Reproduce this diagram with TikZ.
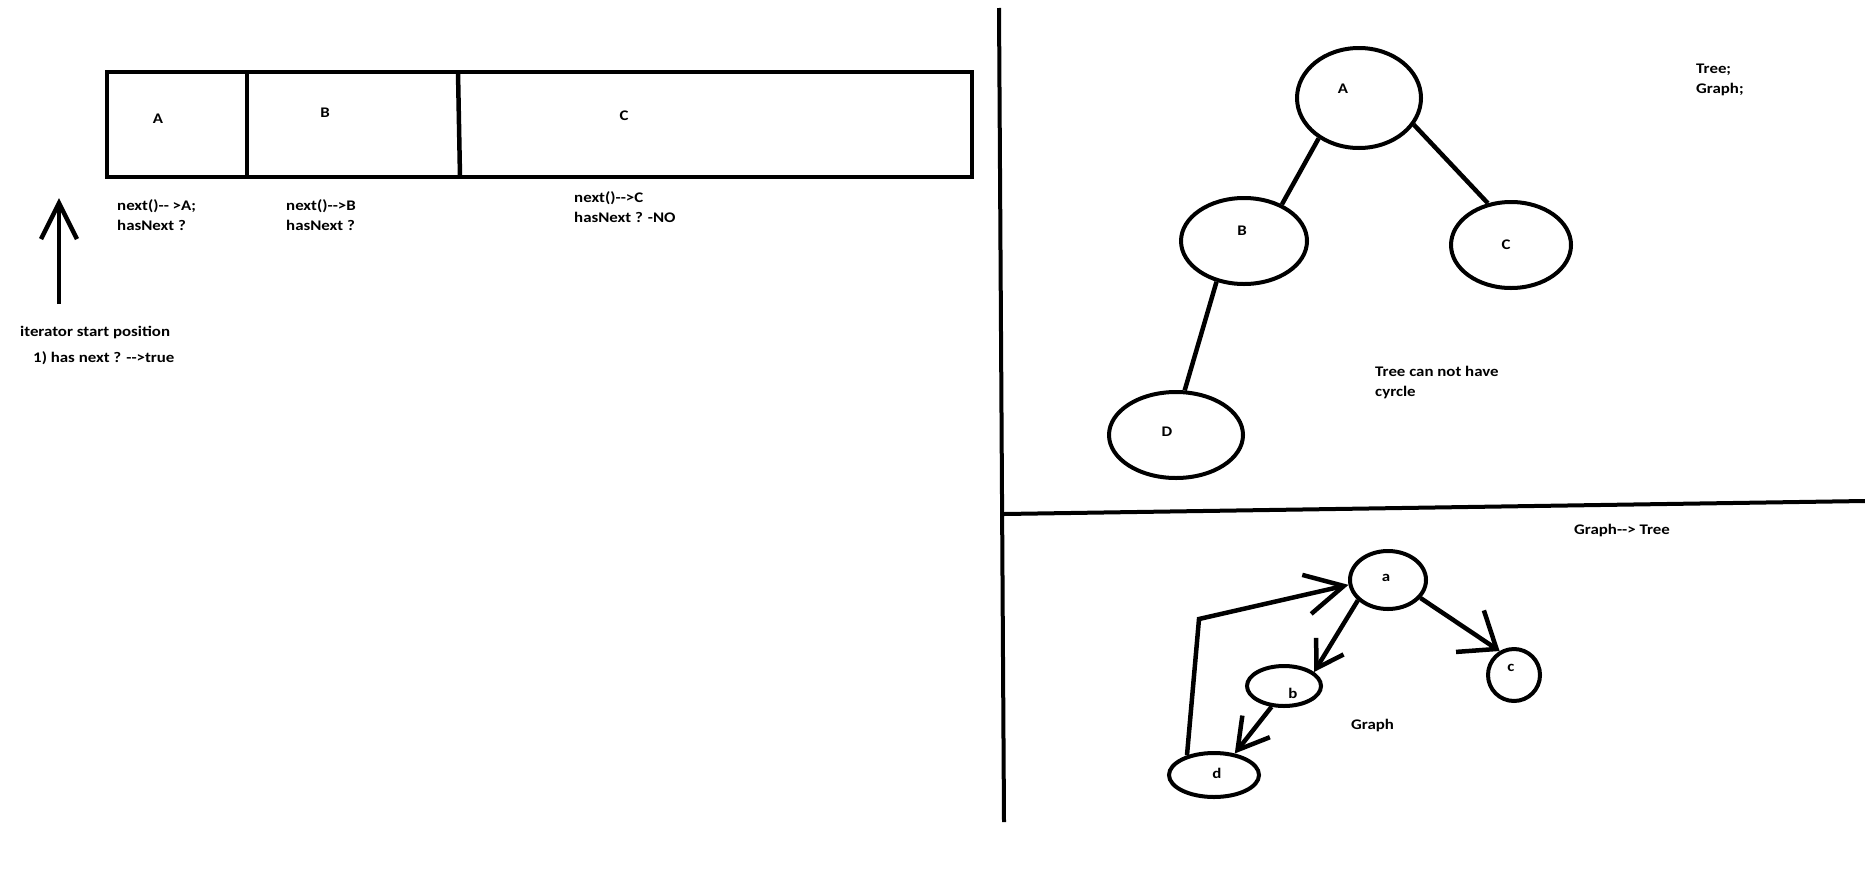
\documentclass[tikz,border=0pt]{standalone}
\usepackage{fontspec}
\setmainfont{Carlito}[Ligatures=TeXOff,FakeStretch=1.15]
\usetikzlibrary{arrows.meta,shapes.geometric}
\begin{document}
\begin{tikzpicture}[x=1pt,y=-1pt,
  txt/.style={font=\fontsize{14.67}{20}\selectfont\bfseries, inner sep=0pt, align=left},
  ell/.style={ellipse, draw, line width=4pt, inner sep=0pt},
  edge/.style={line width=4.5pt},
  divider/.style={line width=4pt}]
\useasboundingbox[fill=white] (0,0) rectangle (1865,881);

% array of cells
\draw[edge] (107,72) rectangle (972,177);
\draw[edge] (247,72) -- (247,177);
\draw[edge] (458,72) -- (460,177);
\node[txt] (cA) at (158,119) {A};
\node[txt] (cB) at (325,113) {B};
\node[txt] (cC) at (624,116) {C};
\node[txt,anchor=west] (tA) at (117,215) {next()-- >A;\\hasNext ?};
\node[txt,anchor=west] (tB) at (286,215) {next()-->B\\hasNext ?};
\node[txt,anchor=west] (tC) at (574,207) {next()-->C\\hasNext ? -NO};

% iterator arrow
\coordinate (itS) at (59,304);
\coordinate (itE) at (59,198);
\draw[edge,-{Straight Barb[length=36pt,width=36pt]}] (itS) -- (itE);
\node[txt,anchor=west] (it1) at (20,332) {iterator start position};
\node[txt,anchor=west] (it2) at (33,358) {1) has next ? -->true};

% dividers
\coordinate (v1) at (999,8);
\coordinate (v2) at (1004,822);
\draw[divider] (v1) -- (v2);
\coordinate (h1) at (1004,514);
\coordinate (h2) at (1865,501);
\draw[divider] (h1) -- (h2);

% tree
\node[ell, minimum width=124pt, minimum height=100pt] (A) at (1359,98) {};
\node[ell, minimum width=126pt, minimum height=86pt] (B) at (1244,241) {};
\node[ell, minimum width=120pt, minimum height=86pt] (C) at (1511,245) {};
\node[ell, minimum width=134pt, minimum height=86pt] (D) at (1176,435) {};
\node[txt] (lA) at (1343,89) {A};
\node[txt] (lB) at (1242,231) {B};
\node[txt] (lC) at (1506,245) {C};
\node[txt] (lD) at (1167,432) {D};
\draw[edge] (A.225) -- (B.44);
\draw[edge] (A.334) -- (C.119);
\draw[edge] (B.236) -- (D.79);
\node[txt,anchor=west] (tg) at (1696,80) {Tree;\\Graph;};
\node[txt,anchor=west] (tc) at (1375,383) {Tree can not have\\cyrcle};

% graph
\node[ell, minimum width=76pt, minimum height=58pt] (a) at (1388,580) {};
\node[ell, minimum width=74pt, minimum height=40pt] (b) at (1284,686) {};
\node[ell, minimum width=52pt, minimum height=52pt] (c) at (1514,675) {};
\node[ell, minimum width=90pt, minimum height=44pt] (d) at (1214,775) {};
\node[txt] (la) at (1386,578) {a};
\node[txt] (lb) at (1293,693) {b};
\node[txt] (lc) at (1511,668) {c};
\node[txt] (ld) at (1217,773) {d};
\node[txt,anchor=west] (gt) at (1574,530) {Graph--> Tree};
\node[txt,anchor=west] (gl) at (1351,725) {Graph};
\draw[edge,-{Straight Barb[length=26pt,width=32pt]}] (a.214) -- (b.25);
\draw[edge,-{Straight Barb[length=30pt,width=35pt]}] (b.239) -- (d.46);
\draw[edge,-{Straight Barb[length=32pt,width=50pt]}] (a.331) -- (c.121);
\coordinate (bend) at (1199,619);
\draw[edge,-{Straight Barb[length=38pt,width=40pt]}] (d.144) -- (bend) -- (a.187);
\end{tikzpicture}
\end{document}
